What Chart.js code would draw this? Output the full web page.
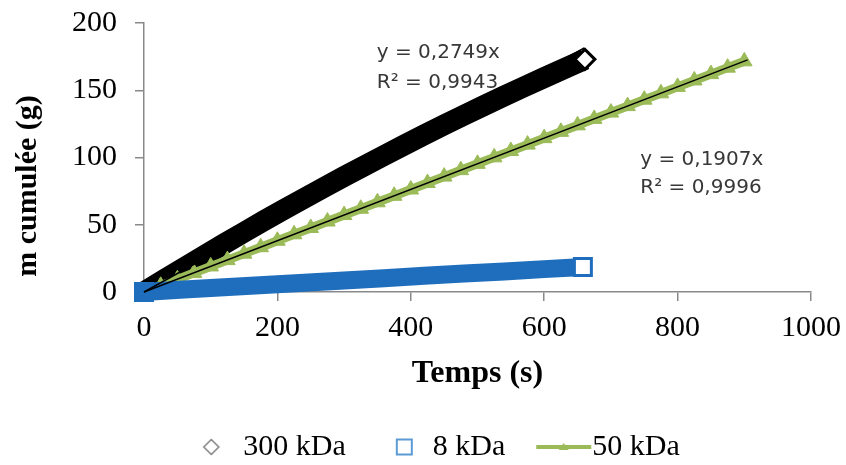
<!DOCTYPE html>
<html><head><meta charset="utf-8">
<script src="https://cdn.jsdelivr.net/npm/chart.js@4.4.0/dist/chart.umd.min.js"></script>
<style>html,body{margin:0;padding:0;background:#fff;overflow:hidden}#wrap{width:846px;height:465px;position:relative}</style>
</head><body><div id="wrap"><canvas id="c"></canvas></div>
<script>
// ---- data ----
const seriesNames = ['300 kDa', '8 kDa', '50 kDa'];
const time300 = [0,30,60,90,120,150,180,210,240,270,300,330,360,390,420,450,480,510,540,570,600,630,661];
const mass300 = [0,9.1,18.1,27.0,35.8,44.4,53.0,61.4,69.6,77.8,85.8,93.7,101.5,109.2,116.8,124.2,131.5,138.7,145.8,152.6,159.4,166.1,173.0];
const time8 = [0,60,120,180,240,300,360,420,480,540,600,658];
const mass8 = [0,1.8,3.5,5.2,6.9,8.6,10.3,12.0,13.7,15.3,17.0,18.6];
const time50 = [0,25,50,75,100,125,150,175,200,225,250,275,300,325,350,375,400,425,450,475,500,525,550,575,600,625,650,675,700,725,750,775,800,825,850,875,900];
const mass50 = [0,4.6,9.4,14.2,19.0,23.7,28.5,33.3,38.1,42.9,47.6,52.4,57.2,61.9,66.7,71.5,76.2,81.0,85.8,90.6,95.3,100.1,104.8,109.6,114.4,119.1,123.9,128.7,133.4,138.2,143.0,147.7,152.5,157.3,162.0,166.8,171.5];
const trendTime300 = [0, 660];
const trendMass300 = [0, 181.4];
const trendTime50 = [0, 905];
const trendMass50 = [0, 172.6];
const xTicks = [0, 200, 400, 600, 800, 1000];
const yTicks = [0, 50, 100, 150, 200];
const eqTexts = [['y = 0,2749x', 'R² = 0,9943'], ['y = 0,1907x', 'R² = 0,9996']];
// anchor of each equation (data units): x of left edge, y of each baseline
const eqAnchorX = [349, 744];
const eqAnchorY = [[174, 151.7], [94.4, 73.6]];

const pts = (xs, ys) => xs.map((x, i) => ({x: x, y: ys[i]}));

const SERIF = "'Liberation Serif', 'Times New Roman', serif";
const SANS = "'DejaVu Sans', sans-serif";
const AXIS = '#898989';
const BLACK = '#000000';
const BLUE = '#1F6EBD';
const GREEN = '#9BBB59';

function legendImg(kind) {
  const c = document.createElement('canvas');
  c.width = 60; c.height = 24;
  const g = c.getContext('2d');
  const cy = 12;
  if (kind === 'diamond') {
    const cx = 28, r = 7.5;
    g.beginPath(); g.moveTo(cx - r, cy); g.lineTo(cx, cy - r); g.lineTo(cx + r, cy); g.lineTo(cx, cy + r); g.closePath();
    g.fillStyle = '#fff'; g.fill(); g.strokeStyle = '#7f7f7f'; g.lineWidth = 1.5; g.stroke();
  } else if (kind === 'square') {
    const cx = 31.5, h = 7.5;
    g.fillStyle = '#fff'; g.fillRect(cx - h, cy - h, 2 * h, 2 * h);
    g.strokeStyle = '#5B9BD5'; g.lineWidth = 2; g.strokeRect(cx - h, cy - h, 2 * h, 2 * h);
  } else {
    g.strokeStyle = GREEN; g.lineWidth = 4; g.beginPath(); g.moveTo(4, cy); g.lineTo(59, cy); g.stroke();
    const cx = 31.5;
    g.fillStyle = GREEN; g.beginPath(); g.moveTo(cx - 5, cy + 3); g.lineTo(cx, cy - 4); g.lineTo(cx + 5, cy + 3); g.closePath(); g.fill();
  }
  return c;
}
const legendImgs = [legendImg('diamond'), legendImg('square'), legendImg('line')];

const lastIdx = (ctx) => ctx.dataset.data.length - 1;

const eqPlugin = {
  id: 'eqPlugin',
  afterDatasetsDraw(chart) {
    const {ctx, scales: {x, y}} = chart;
    ctx.save();
    ctx.font = '20px ' + SANS;
    ctx.fillStyle = '#383838';
    ctx.textAlign = 'left';
    ctx.textBaseline = 'alphabetic';
    eqTexts.forEach((lines, i) => {
      lines.forEach((t, j) => ctx.fillText(t, x.getPixelForValue(eqAnchorX[i]), y.getPixelForValue(eqAnchorY[i][j])));
    });
    ctx.restore();
  },
  afterDraw(chart) {
    const {ctx, chartArea} = chart;
    ctx.save();
    ctx.translate(chartArea.left - 116, chartArea.bottom - 106);
    ctx.rotate(-Math.PI / 2);
    ctx.font = 'bold 30px ' + SERIF;
    ctx.fillStyle = '#000';
    ctx.textAlign = 'center';
    ctx.textBaseline = 'middle';
    ctx.fillText('m cumulée (g)', 0, 0);
    ctx.restore();
  }
};

new Chart(document.getElementById('c'), {
  type: 'scatter',
  data: {
    datasets: [
      {label: seriesNames[0], data: pts(time300, mass300), showLine: true, order: 4, clip: false,
       borderColor: BLACK, borderWidth: 21, borderCapStyle: 'butt', borderJoinStyle: 'round',
       pointStyle: 'rectRot', pointRadius: (c) => c.dataIndex === lastIdx(c) ? 10 : 0,
       pointBackgroundColor: '#fff', pointBorderColor: BLACK, pointBorderWidth: 3},
      {label: seriesNames[1], data: pts(time8, mass8), showLine: true, order: 2, clip: false,
       borderColor: BLUE, borderWidth: 18, borderCapStyle: 'butt', borderJoinStyle: 'round',
       pointStyle: 'rect', pointRadius: (c) => (c.dataIndex === 0 || c.dataIndex === lastIdx(c)) ? 12 : 0,
       pointBackgroundColor: (c) => c.dataIndex === 0 ? BLUE : '#fff', pointBorderColor: BLUE, pointBorderWidth: 3},
      {label: seriesNames[2], data: pts(time50, mass50), showLine: true, order: 3, clip: false,
       borderColor: GREEN, borderWidth: 9, pointStyle: 'triangle', pointRadius: 9,
       pointBackgroundColor: GREEN, pointBorderColor: GREEN, pointBorderWidth: 1},
      {label: 'trend300', data: pts(trendTime300, trendMass300), showLine: true, order: 0, clip: false,
       borderColor: '#000', borderWidth: 1.5, pointRadius: 0},
      {label: 'trend50', data: pts(trendTime50, trendMass50), showLine: true, order: 1, clip: false,
       borderColor: '#000', borderWidth: 1.5, pointRadius: 0}
    ]
  },
  options: {
    responsive: true,
    maintainAspectRatio: false,
    animation: false,
    devicePixelRatio: 1,
    events: [],
    layout: {padding: {left: 32, right: 0, top: 23, bottom: -7}},
    scales: {
      x: {
        type: 'linear', min: xTicks[0], max: xTicks[xTicks.length - 1],
        afterBuildTicks: (s) => { s.ticks = xTicks.map(v => ({value: v})); },
        afterFit: (s) => { s.height = 98; s.paddingRight = 35; },
        ticks: {font: {family: SERIF, size: 30}, color: '#000', padding: 9, maxRotation: 0, callback: (v) => String(v)},
        grid: {drawOnChartArea: false, drawTicks: true, tickLength: 9, color: AXIS, lineWidth: 1.5},
        border: {display: true, color: AXIS, width: 1.5},
        title: {display: true, text: 'Temps (s)', color: '#000', font: {family: SERIF, size: 32, weight: 'bold', lineHeight: 1}, padding: {top: 0, bottom: 0}}
      },
      y: {
        type: 'linear', min: yTicks[0], max: yTicks[yTicks.length - 1],
        afterBuildTicks: (s) => { s.ticks = yTicks.map(v => ({value: v})); },
        afterFit: (s) => { s.width = 112; s.paddingTop = 0; s.paddingBottom = 0; },
        ticks: {font: {family: SERIF, size: 30}, color: '#000', padding: 18, callback: (v) => String(v)},
        grid: {drawOnChartArea: false, drawTicks: true, tickLength: 9, color: AXIS, lineWidth: 1.5},
        border: {display: true, color: AXIS, width: 1.5},
        title: {display: false}
      }
    },
    plugins: {
      tooltip: {enabled: false},
      legend: {
        display: true, position: 'bottom', align: 'center',
        labels: {
          usePointStyle: true, pointStyleWidth: 30, padding: 42,
          font: {family: SERIF, size: 30}, color: '#000',
          generateLabels: () => seriesNames.map((n, i) => ({text: n, datasetIndex: i, pointStyle: legendImgs[i], fontColor: '#000', hidden: false, lineWidth: 0}))
        }
      }
    }
  },
  plugins: [eqPlugin]
});
</script>
</body></html>
